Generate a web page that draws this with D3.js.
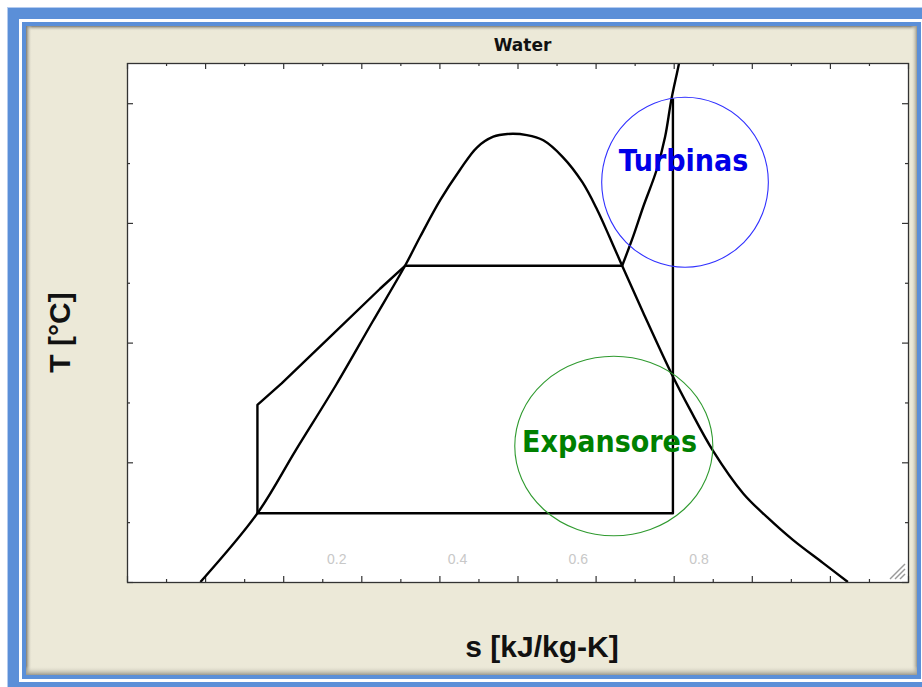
<!DOCTYPE html>
<html lang="es">
<head>
<meta charset="utf-8">
<script src="https://d3js.org/d3.v7.min.js"></script>
<style>
body { margin: 0; background: #fff; }
svg { display: block; }
.tick line { stroke: #333; stroke-width: 1.2; }
.domain { display: none; }
.curve { fill: none; stroke: #000; stroke-width: 2.4; stroke-linejoin: round; }
.faint { fill: #c8c8c8; font: 14px "Liberation Sans", Arial, sans-serif; text-anchor: middle; }
.axlabel { fill: #111; font: bold 30px "Liberation Sans", Arial, sans-serif; text-anchor: middle; }
.note { font-family: "DejaVu Sans Condensed", "DejaVu Sans", sans-serif; font-weight: bold; font-size: 30px; text-anchor: middle; }
</style>
</head>
<body>

<svg width="922" height="687"></svg>

<script>
// saturation dome, s [kJ/kg-K] and T [C]
var domeS = [0.94, 1.67, 2.16, 2.68, 3.14, 3.56, 3.75, 4.01, 4.26, 4.48, 4.69, 4.87, 5.12, 5.33,
             5.58, 5.83, 6.02, 6.18, 6.34, 6.61, 6.98, 7.21, 7.50, 7.89, 8.20, 8.53, 8.91, 9.23];
var domeT = [0, 57.4, 110, 165, 217, 264.2, 288, 319, 344, 363, 372, 374.3, 373.4, 369,
             355, 334, 311, 288, 264.2, 225, 173, 144, 110, 74, 54, 35, 16, 0];

// superheated isobar leaving the dome
var isobarS = [6.34, 6.48, 6.61, 6.78, 6.89, 6.97, 7.07, 7.10];
var isobarT = [264.2, 288.5, 313.5, 344, 372, 403, 434, 446];

// cycle: pump + heating line, evaporation
var heatS = [1.67, 1.67, 1.98, 2.62, 3.24, 3.56, 6.34];
var heatT = [57.4, 148, 166, 206, 245, 264.2, 264.2];
// expansion and condensation
var expS = [6.99, 6.99, 1.67];
var expT = [404, 57.4, 57.4];

// faint labels along the bottom
var faintLabels = [0.2, 0.4, 0.6, 0.8];

// annotations
var noteNames = ["Turbinas", "Expansores"];
var noteColors = ["#0000e8", "#008000"];
var ringColors = ["#3030ff", "#2f9a2f"];
var noteS = [7.145, 6.233];
var noteT = [334, 113.6];
var noteRs = [1.067, 1.268];
var noteRt = [71, 75];

var svg = d3.select("svg"),
    margin = {top: 63, right: 14, bottom: 105, left: 127},
    width = +svg.attr("width") - margin.left - margin.right,
    height = +svg.attr("height") - margin.top - margin.bottom;

var defs = svg.append("defs");
function grad(id, x2, y2, c1, o1, c2, o2) {
  var lg = defs.append("linearGradient").attr("id", id)
      .attr("x1", 0).attr("y1", 0).attr("x2", x2).attr("y2", y2);
  lg.append("stop").attr("offset", 0).attr("stop-color", c1).attr("stop-opacity", o1);
  lg.append("stop").attr("offset", 1).attr("stop-color", c2).attr("stop-opacity", o2);
}
grad("shTop", 0, 1, "#7d7a70", 1, "#ece9d8", 0);
grad("shLeft", 1, 0, "#7d7a70", 1, "#ece9d8", 0);
grad("shRight", 1, 0, "#ece9d8", 0, "#9b988c", 1);
grad("shBottom", 0, 1, "#ece9d8", 0, "#9b988c", 1);

// window frame
svg.append("rect").attr("x", 7.5).attr("y", 7.5).attr("width", 940).attr("height", 700)
    .attr("fill", "#5b8fd8").attr("stroke", "#b4cbef");
svg.append("rect").attr("x", 20.5).attr("y", 20.5).attr("width", 902).attr("height", 660)
    .attr("fill", "none").attr("stroke", "#fff").attr("stroke-width", 3);
svg.append("rect").attr("x", 26).attr("y", 26).attr("width", 891).attr("height", 649).attr("fill", "#ece9d8");
svg.append("rect").attr("x", 26).attr("y", 26).attr("width", 891).attr("height", 5).attr("fill", "url(#shTop)");
svg.append("rect").attr("x", 26).attr("y", 26).attr("width", 6).attr("height", 649).attr("fill", "url(#shLeft)");
svg.append("rect").attr("x", 911).attr("y", 26).attr("width", 6).attr("height", 649).attr("fill", "url(#shRight)");
svg.append("rect").attr("x", 26).attr("y", 666).attr("width", 891).attr("height", 9).attr("fill", "url(#shBottom)");

var x = d3.scaleLinear().domain([0, 10]).range([0, width]);
var y = d3.scaleLinear().domain([0, 433.6]).range([height, 0]);
// the faint labels follow their own spacing
var xFaint = d3.scaleLinear().domain([0, 1]).range([x(1.14), x(8.87)]);

var g = svg.append("g")
    .attr("transform", "translate(" + margin.left + "," + margin.top + ")");

defs.append("clipPath").attr("id", "plotClip")
  .append("rect").attr("width", width).attr("height", height);

g.append("rect").attr("width", width).attr("height", height).attr("fill", "#fff");

// ticks, inward on all four sides
var major = d3.range(0, 10.01, 1), minor = d3.range(0.5, 10, 1);
var majorT = d3.range(0, 434, 100), minorT = d3.range(50, 434, 100);
function ticks(axis, vals, size, tr) {
  g.append("g").attr("transform", tr)
    .call(axis.tickValues(vals).tickSize(-size).tickFormat(""));
}
ticks(d3.axisBottom(x), major, 6, "translate(0," + height + ")");
ticks(d3.axisBottom(x), minor, 3, "translate(0," + height + ")");
ticks(d3.axisTop(x), major, 6, "translate(0,0)");
ticks(d3.axisTop(x), minor, 3, "translate(0,0)");
ticks(d3.axisLeft(y), majorT, 6, "translate(0,0)");
ticks(d3.axisLeft(y), minorT, 3, "translate(0,0)");
ticks(d3.axisRight(y), majorT, 6, "translate(" + width + ",0)");
ticks(d3.axisRight(y), minorT, 3, "translate(" + width + ",0)");

g.selectAll(".faint")
  .data(faintLabels)
  .enter().append("text")
    .attr("class", "faint")
    .attr("x", function(d) { return xFaint(d); })
    .attr("y", height - 18)
    .text(function(d) { return d3.format(".1f")(d); });

var plot = g.append("g").attr("clip-path", "url(#plotClip)");

var smooth = d3.line()
    .x(function(d) { return x(d[0]); })
    .y(function(d) { return y(d[1]); })
    .curve(d3.curveCatmullRom.alpha(0.5));
var straight = d3.line()
    .x(function(d) { return x(d[0]); })
    .y(function(d) { return y(d[1]); });

plot.append("path").attr("class", "curve").attr("d", smooth(d3.zip(domeS, domeT)));
plot.append("path").attr("class", "curve").attr("d", smooth(d3.zip(isobarS, isobarT)));
plot.append("path").attr("class", "curve").attr("d", straight(d3.zip(heatS, heatT)));
plot.append("path").attr("class", "curve").attr("d", straight(d3.zip(expS, expT)));

// resize grip
var grip = g.append("g").attr("stroke", "#9a9a9a").attr("stroke-width", 1.4);
[5, 10, 15].forEach(function(k) {
  grip.append("line")
    .attr("x1", width - 3 - k).attr("y1", height - 3)
    .attr("x2", width - 3).attr("y2", height - 3 - k);
});

// frame
g.append("rect").attr("x", 0.5).attr("y", 0.5).attr("width", width).attr("height", height)
    .attr("fill", "none").attr("stroke", "#333").attr("stroke-width", 1.3);

// annotation rings and labels
var notes = g.selectAll(".note-g")
  .data(noteNames)
  .enter().append("g");
notes.append("ellipse")
    .attr("cx", function(d, i) { return x(noteS[i]); })
    .attr("cy", function(d, i) { return y(noteT[i]); })
    .attr("rx", function(d, i) { return x(noteRs[i]) - x(0); })
    .attr("ry", function(d, i) { return y(0) - y(noteRt[i]); })
    .attr("fill", "none")
    .attr("stroke", function(d, i) { return ringColors[i]; })
    .attr("stroke-width", 1.1);

svg.append("text").attr("class", "note").attr("x", 683.5).attr("y", 171)
    .attr("fill", noteColors[0]).text(noteNames[0]);
svg.append("text").attr("class", "note").attr("x", 609.5).attr("y", 452)
    .attr("fill", noteColors[1]).text(noteNames[1]);

// titles
svg.append("text").attr("x", 522.5).attr("y", 51)
    .attr("text-anchor", "middle")
    .style("font", "bold 17px 'DejaVu Sans', sans-serif")
    .attr("fill", "#111")
    .text("Water");
svg.append("text").attr("class", "axlabel").attr("x", 542).attr("y", 657).text("s [kJ/kg-K]");
svg.append("text").attr("class", "axlabel")
    .attr("transform", "translate(70,332.5) rotate(-90)")
    .text("T [°C]");

</script>

</body>
</html>
